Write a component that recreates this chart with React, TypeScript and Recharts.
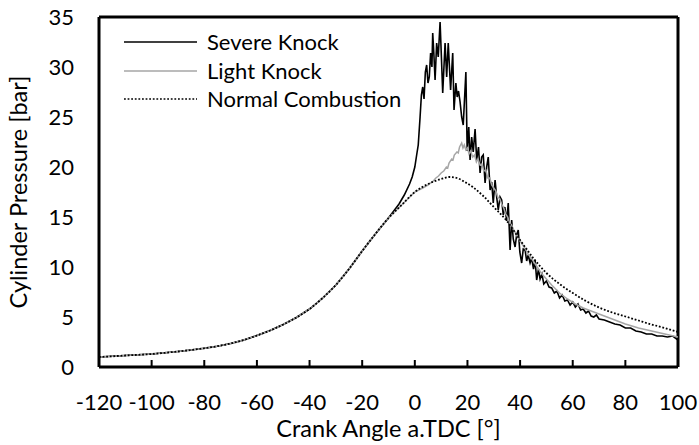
import React from 'react';
import { LineChart, Line, XAxis, YAxis, ReferenceLine, Legend } from 'recharts';

// Compression stroke, shared by all three cycles (crank angle in deg, pressure in bar)
const COMMON_ANGLE = [-120, -115, -110, -105, -100, -95, -90, -85, -80, -75, -70, -65, -60, -55, -50, -45, -40, -35, -30, -25, -20, -15, -10];
const COMMON_P = [1.0, 1.07, 1.15, 1.22, 1.3, 1.42, 1.55, 1.7, 1.87, 2.08, 2.35, 2.7, 3.15, 3.65, 4.25, 4.95, 5.8, 6.9, 8.2, 9.8, 11.6, 13.3, 14.9];

// Severe knock: fast pressure rise and strong oscillation after TDC
const SEVERE_ANGLE = [
  -8, -6, -4, -2, -1, 0, 0.7, 1.3, 2.0, 2.5, 3.0, 3.5, 4.0, 4.5, 5.0, 5.5, 6.0, 6.5, 6.8, 7.2, 7.7, 8.3, 8.9, 9.6,
  10.1, 10.6, 11.5, 12.1, 12.7, 13.6, 14.4, 14.9, 15.6, 16.1, 16.6, 17.2, 17.8, 18.4, 19.4, 19.9, 20.5, 21.0, 21.6,
  22.2, 22.9, 23.5, 24.2, 24.8, 25.4, 26.0, 26.7, 27.3, 27.9, 28.6, 29.2, 29.8, 30.5, 31.1, 31.7, 32.4, 33.0, 33.6,
  34.2, 34.9, 35.5, 36.2, 36.8, 37.4, 38.1, 38.7, 39.3, 39.9, 40.6, 41.2, 41.9, 42.5, 43.1, 43.8, 44.4, 45.1, 45.7,
  46.3, 47.0, 47.6, 48.3, 49, 50, 51, 52, 53, 54, 55, 56, 57, 58, 59, 60, 61, 62, 63, 64, 65, 66, 67, 68, 69, 70,
  72, 74, 76, 78, 80, 82, 84, 86, 88, 90, 92, 94, 96, 98, 100,
];
const SEVERE_P = [
  15.6, 16.3, 17.2, 18.3, 19.0, 20.0, 21.2, 22.2, 25.0, 27.2, 28.0, 26.8, 29.5, 30.2, 28.4, 29.0, 31.4, 30.0, 33.4, 31.5, 28.7, 32.4, 31.0, 34.5,
  31.0, 27.4, 32.4, 29.0, 32.4, 27.7, 31.4, 25.7, 28.4, 27.0, 27.6, 26.5, 25.0, 24.2, 29.5, 21.6, 24.0, 20.7, 23.0,
  21.5, 23.8, 20.7, 22.0, 19.4, 21.0, 21.2, 18.4, 20.0, 21.0, 17.7, 18.5, 16.4, 18.7, 17.0, 15.7, 17.0, 16.7, 15.2,
  16.0, 14.6, 16.4, 11.7, 14.7, 12.8, 12.0, 13.2, 13.7, 11.5, 10.4, 11.8, 11.7, 10.6, 11.2, 10.4, 10.9, 9.8, 10.7,
  8.7, 9.8, 8.8, 9.3, 8.3, 8.6, 8.0, 7.9, 7.4, 7.6, 6.9, 7.2, 6.6, 6.7, 6.2, 6.5, 6.0, 6.3, 5.7, 5.8, 5.4, 5.6, 5.1, 5.0, 5.2, 4.8,
  4.7, 4.5, 4.3, 4.2, 3.9, 3.9, 3.6, 3.5, 3.3, 3.3, 3.1, 3.1, 3.0, 3.1, 2.7,
];

// Light knock: moderate late rise with small ripples
const LIGHT_ANGLE = [
  -5, 0, 3, 5, 6, 7, 8, 9, 10, 11, 12, 12.5, 13, 14, 14.5, 15, 16, 16.5, 17, 17.8, 18.3, 18.8, 19.4, 20, 20.6, 21.2,
  22, 22.7, 23.4, 24, 24.8, 25.5, 26.2, 27, 27.7, 28.5, 29.2, 30, 30.8, 31.5, 32.3, 33, 33.8, 34.5, 35.3, 36, 36.8,
  37.5, 38.3, 39, 40, 41, 42, 43, 44, 45, 46, 47, 48, 50, 52, 55, 58, 61, 64, 68, 72, 76, 80, 85, 90, 95, 100,
];
const LIGHT_P = [
  16.2, 17.5, 17.9, 18.2, 18.4, 18.6, 18.9, 19.1, 19.4, 19.6, 20.0, 19.9, 20.4, 20.8, 20.7, 21.2, 21.5, 21.4, 22.0, 22.4, 21.9, 22.2, 21.7, 21.9, 21.3, 21.6,
  21.0, 21.2, 20.5, 20.8, 20.2, 20.3, 19.6, 19.7, 18.9, 18.9, 18.2, 17.9, 17.6, 17.0, 16.8, 16.3, 15.9, 15.3, 15.0, 14.4, 14.2,
  13.7, 13.4, 13.0, 12.6, 12.2, 11.8, 11.3, 11.0, 10.6, 10.2, 9.8, 9.4, 8.8, 8.2, 7.4, 6.8, 6.3, 5.9, 5.5, 5.1, 4.7, 4.3, 3.9, 3.6, 3.3, 3.0,
];

// Normal combustion
const NORMAL_ANGLE = [-5, 0, 5, 10, 13, 16, 19, 22, 26, 30, 35, 40, 45, 50, 55, 60, 65, 70, 75, 80, 85, 90, 95, 100];
const NORMAL_P = [16.2, 17.5, 18.3, 18.8, 19.0, 18.9, 18.5, 18.0, 17.1, 16.0, 14.6, 12.7, 10.9, 9.4, 8.3, 7.4, 6.6, 5.95, 5.45, 5.05, 4.65, 4.25, 3.9, 3.5];

const X_TICKS = [-120, -100, -80, -60, -40, -20, 0, 20, 40, 60, 80, 100];
const Y_TICKS = [0, 5, 10, 15, 20, 25, 30, 35];

const FONT = 'Lato, "Open Sans", sans-serif';
const INK = '#000';

type Pt = { angle: number; p: number };
const toPoints = (a: number[], p: number[]): Pt[] => a.map((x, i) => ({ angle: x, p: p[i] }));
const common = toPoints(COMMON_ANGLE, COMMON_P);

const SERIES = [
  { name: 'Severe Knock', data: [...common, ...toPoints(SEVERE_ANGLE, SEVERE_P)], stroke: '#000', width: 1.6, legendWidth: 1.3, dash: undefined as string | undefined, curve: 'linear' as const },
  { name: 'Light Knock', data: [...common, ...toPoints(LIGHT_ANGLE, LIGHT_P)], stroke: '#a6a6a6', width: 1.5, legendWidth: 1.5, dash: undefined as string | undefined, curve: 'linear' as const },
  { name: 'Normal Combustion', data: [...common, ...toPoints(NORMAL_ANGLE, NORMAL_P)], stroke: '#000', width: 1.8, legendWidth: 1.5, dash: '1.8 1.8', curve: 'monotone' as const },
];

const XTick = (props: any) => {
  const { x, y, payload } = props;
  return (
    <g>
      <line x1={x} y1={y} x2={x} y2={y - 7} stroke={INK} strokeWidth={2} />
      <text x={x} y={y + 43} textAnchor="middle" fontSize={22} fontFamily={FONT} fill={INK}>
        {payload.value}
      </text>
    </g>
  );
};

const renderLegend = () => (
  <div>
    {SERIES.map((s) => (
      <div key={s.name} style={{ display: 'flex', alignItems: 'center', height: 28.5 }}>
        <svg width={73} height={10} style={{ display: 'block' }}>
          <line x1={0} y1={5} x2={73} y2={5} stroke={s.stroke} strokeWidth={s.legendWidth} strokeDasharray={s.dash} />
        </svg>
        <span style={{ marginLeft: 10, fontSize: 22, fontFamily: FONT, color: INK, lineHeight: '28.5px', whiteSpace: 'nowrap' }}>
          {s.name}
        </span>
      </div>
    ))}
  </div>
);

export default function App() {
  return (
    <div style={{ position: 'absolute', left: 0, top: 0, width: 699, height: 445, background: '#fff' }}>
      <LineChart width={699} height={445} margin={{ top: 17, right: 21, bottom: 0, left: 0 }} style={{ fontFamily: FONT }}>
        <XAxis
          dataKey="angle"
          type="number"
          domain={[-120, 100]}
          ticks={X_TICKS}
          allowDataOverflow
          height={78}
          tickSize={0}
          tickMargin={0}
          tickLine={false}
          tick={XTick}
          axisLine={{ stroke: INK, strokeWidth: 3 }}
          label={{ value: 'Crank Angle a.TDC [°]', position: 'center', dy: 23, fontSize: 23.5, fontFamily: FONT, fill: INK }}
        />
        <YAxis
          type="number"
          domain={[0, 35]}
          ticks={Y_TICKS}
          allowDataOverflow
          width={99}
          tickSize={0}
          tickMargin={25}
          tickLine={false}
          axisLine={{ stroke: INK, strokeWidth: 3 }}
          tick={{ fontSize: 22, fill: INK, fontFamily: FONT }}
          label={{ value: 'Cylinder Pressure [bar]', angle: -90, position: 'center', dx: -31, fontSize: 23.5, fontFamily: FONT, fill: INK }}
        />
        <ReferenceLine y={35} stroke={INK} strokeWidth={3} />
        <ReferenceLine x={100} stroke={INK} strokeWidth={3} />
        {SERIES.map((s) => (
          <Line
            key={s.name}
            name={s.name}
            data={s.data}
            dataKey="p"
            type={s.curve}
            stroke={s.stroke}
            strokeWidth={s.width}
            strokeDasharray={s.dash}
            dot={false}
            activeDot={false}
            isAnimationActive={false}
          />
        ))}
        <Legend
          layout="vertical"
          align="center"
          verticalAlign="middle"
          content={renderLegend}
          wrapperStyle={{ position: 'absolute', left: 124, top: 28, width: 'auto', height: 'auto' }}
        />
      </LineChart>
    </div>
  );
}
